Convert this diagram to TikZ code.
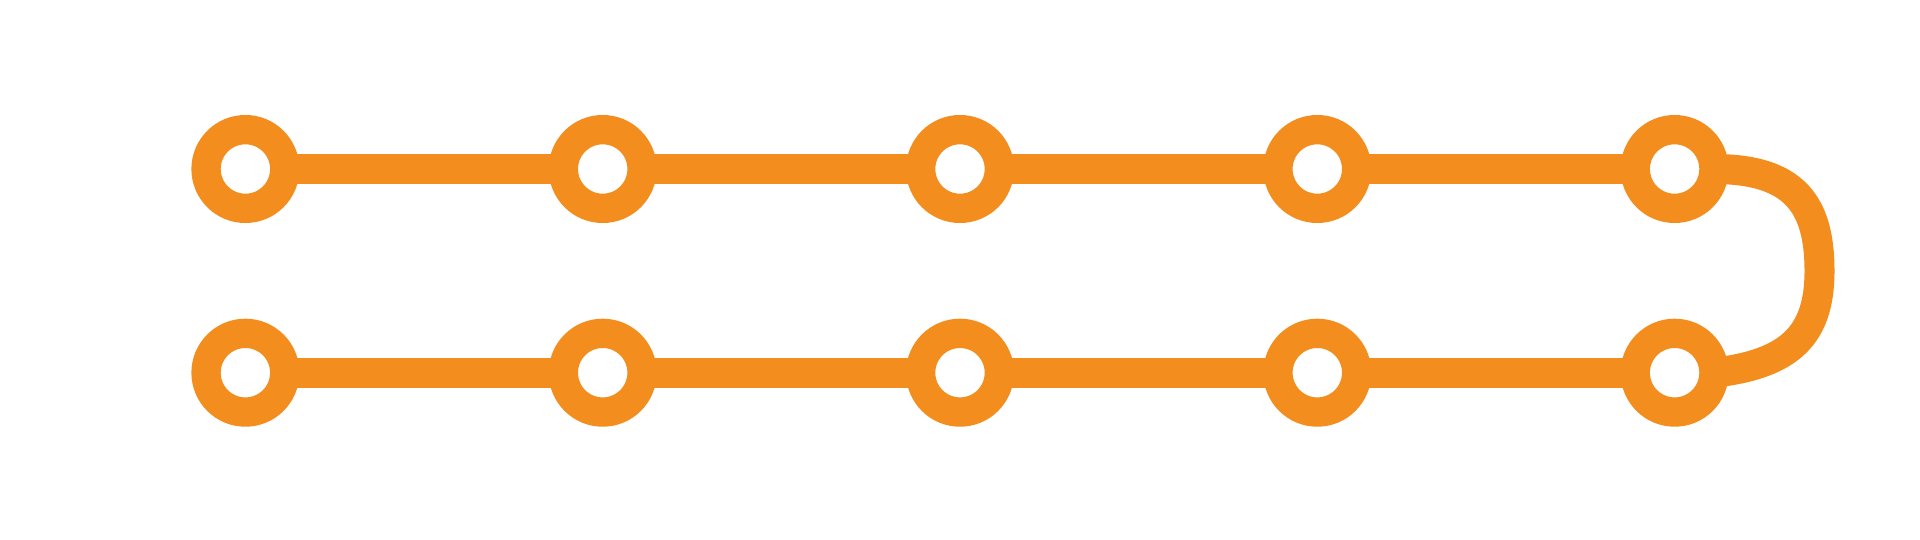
\documentclass[tikz,border=0pt]{standalone}
\definecolor{ora}{RGB}{242,141,30}
\begin{document}
\begin{tikzpicture}[x=1pt,y=-1pt,
  ring/.style={circle,draw=ora,line width=29.3pt,fill=white,inner sep=0pt,outer sep=0pt,minimum size=78.7pt},
  link/.style={draw=ora,line width=30pt}]
\useasboundingbox[fill=white] (0,0) rectangle (1920,540);
\foreach \i/\x in {1/245.4,2/602.7,3/960,4/1317.3,5/1674.6}{
  \node[ring] (t\i) at (\x,169) {};
  \node[ring] (b\i) at (\x,372.7) {};
}
\foreach \i/\j in {1/2,2/3,3/4,4/5}{
  \draw[link] (t\i) -- (t\j);
  \draw[link] (b\i) -- (b\j);
}
\coordinate (r) at (1819.5,271);
\draw[link] (t5.east) .. controls (1795,169) and (1819.5,205) .. (r)
  .. controls (1819.5,335) and (1790,364) .. (b5.east);
\end{tikzpicture}
\end{document}
